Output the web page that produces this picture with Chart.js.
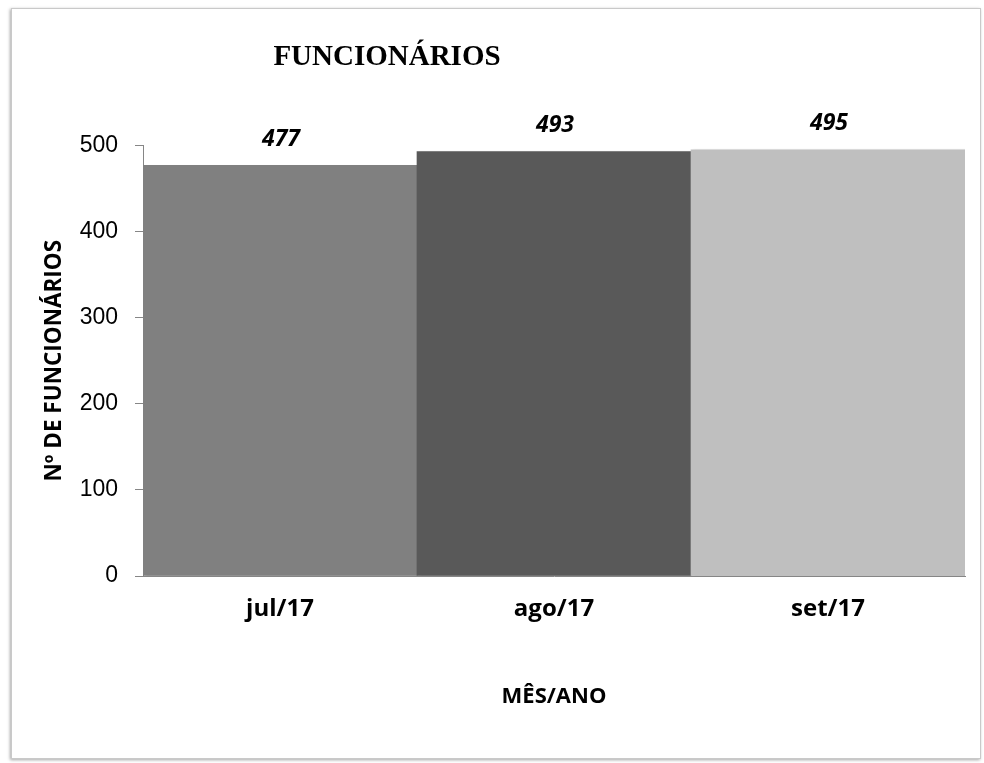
<!DOCTYPE html>
<html>
<head>
<meta charset="utf-8">
<script src="https://cdn.jsdelivr.net/npm/chart.js@4/dist/chart.umd.min.js"></script>
<style>
  html, body { margin: 0; padding: 0; background: #ffffff; }
  #frame { position: absolute; left: 11px; top: 8px; width: 968px; height: 749px;
           border: 1px solid #c9c9c9; box-shadow: -1px 1px 3px rgba(0,0,0,0.35); background: #fff; }
  #wrap { position: absolute; left: 0; top: 0; width: 984px; height: 763px; }
</style>
</head>
<body>
<div id="frame"></div>
<div id="wrap"><canvas id="c" width="984" height="763"></canvas></div>
<script>
const chartTitle = 'FUNCIONÁRIOS';
const categories = ['jul/17', 'ago/17', 'set/17'];
const employees = [477, 493, 495];
const barColors = ['#808080', '#595959', '#bfbfbf'];
const yTicks = [0, 100, 200, 300, 400, 500];
const xAxisTitle = 'MÊS/ANO';
const yAxisTitle = 'Nº DE FUNCIONÁRIOS';

const shadowPlugin = {
  id: 'barShadow',
  beforeDatasetsDraw(chart) {
    const ctx = chart.ctx;
    ctx.save();
    ctx.shadowColor = 'rgba(0,0,0,0.30)';
    ctx.shadowBlur = 3;
    ctx.shadowOffsetX = 2;
    ctx.shadowOffsetY = 2;
  },
  afterDatasetsDraw(chart) {
    chart.ctx.restore();
  }
};

const labelPlugin = {
  id: 'valueLabels',
  afterDatasetsDraw(chart) {
    const ctx = chart.ctx;
    const meta = chart.getDatasetMeta(0);
    ctx.save();
    ctx.font = 'italic bold 23px "Open Sans"';
    ctx.fillStyle = '#000000';
    ctx.textAlign = 'center';
    ctx.textBaseline = 'middle';
    meta.data.forEach((bar, i) => {
      ctx.fillText(String(employees[i]), bar.x + 1, bar.y - 26);
    });
    ctx.restore();
  }
};

const titlePlugin = {
  id: 'offsetTitle',
  afterDraw(chart) {
    const ctx = chart.ctx;
    ctx.save();
    ctx.font = 'bold 29px "Liberation Serif"';
    ctx.fillStyle = '#000000';
    ctx.textAlign = 'center';
    ctx.textBaseline = 'middle';
    ctx.fillText(chartTitle, 387, 58);
    ctx.restore();
  }
};

new Chart(document.getElementById('c'), {
  type: 'bar',
  data: {
    labels: categories,
    datasets: [{
      data: employees,
      backgroundColor: barColors,
      borderWidth: 0,
      categoryPercentage: 1.0,
      barPercentage: 1.0
    }]
  },
  options: {
    responsive: false,
    animation: false,
    devicePixelRatio: 1,
    layout: { padding: { left: 30, right: 19, top: 145.5, bottom: 53 } },
    plugins: {
      legend: { display: false },
      tooltip: { enabled: false },
      title: { display: false }
    },
    scales: {
      x: {
        grid: { display: false, drawTicks: false },
        border: { display: true, color: '#868686', width: 1 },
        ticks: {
          padding: 19,
          color: '#000000',
          font: { family: '"Open Sans"', weight: 'bold', size: 24 }
        },
        title: {
          display: true,
          text: xAxisTitle,
          color: '#000000',
          padding: 0,
          font: { family: '"Open Sans"', weight: 'bold', size: 22 }
        },
        afterFit(scale) { scale.height = 134; }
      },
      y: {
        min: 0,
        max: 500,
        afterBuildTicks(scale) { scale.ticks = yTicks.map(v => ({ value: v })); },
        grid: { drawOnChartArea: false, drawTicks: true, tickLength: 8, color: '#868686' },
        border: { display: true, color: '#868686', width: 1 },
        ticks: {
          padding: 17,
          color: '#000000',
          font: { family: 'Liberation Sans', size: 23 }
        },
        title: {
          display: true,
          text: yAxisTitle,
          color: '#000000',
          padding: { top: 11, bottom: 0 },
          font: { family: '"Open Sans"', weight: 'bold', size: 22.5 }
        },
        afterFit(scale) { scale.width = 113; }
      }
    }
  },
  plugins: [shadowPlugin, labelPlugin, titlePlugin]
});
</script>
</body>
</html>
